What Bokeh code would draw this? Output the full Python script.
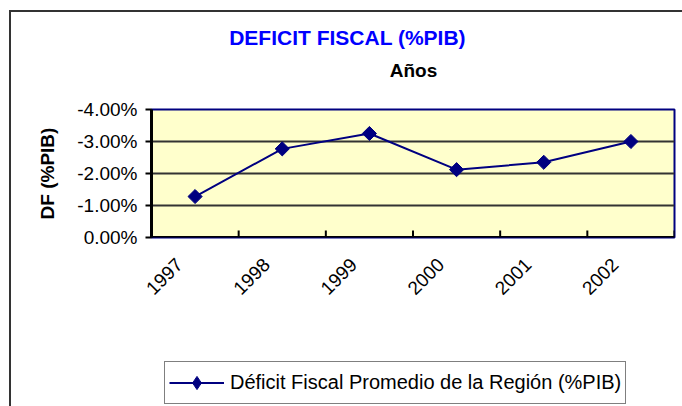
import math
from bokeh.plotting import figure
from bokeh.layouts import column
from bokeh.models import (Range1d, FixedTicker, NumeralTickFormatter,
                          Legend, LegendItem, ColumnDataSource, Label, LinearAxis)
from bokeh.embed import file_html
from bokeh.resources import INLINE

# ---- data ----
years = ["1997", "1998", "1999", "2000", "2001", "2002"]
deficit = [-0.0128, -0.0277, -0.0325, -0.0212, -0.0235, -0.0300]
y_ticks = [0.0, -0.01, -0.02, -0.03, -0.04]
grid_ticks = [-0.01, -0.02, -0.03]
title_text = "DEFICIT FISCAL  (%PIB)"
subtitle_text = "Años"
y_label_text = "DF (%PIB)"
series_name = "Déficit Fiscal Promedio de la Región (%PIB)"

FONT = "Liberation Sans"
NAVY = "#000080"
BORDER = "#333333"

n = len(years)
centers = [i + 0.5 for i in range(n)]        # category centres
bounds = [i + 1.0 for i in range(n)]         # category boundaries (Excel ticks)

src = ColumnDataSource(dict(x=centers, year=years, df=deficit))
tick_src = ColumnDataSource(dict(x=bounds, y=[0.0] * n))

W = 682
TITLE_H = 95
LEG_H = 76
MAIN_H = 406 - TITLE_H - LEG_H


def bare(fig):
    fig.outline_line_color = None
    fig.xgrid.visible = False
    fig.ygrid.visible = False


# ---- title strip ----
t = figure(x_range=Range1d(0, 1), y_range=Range1d(0, 1), width=W, height=TITLE_H,
           output_backend="svg", toolbar_location=None,
           x_axis_location=None, y_axis_location=None,
           min_border_left=0, min_border_right=0, min_border_top=0, min_border_bottom=0,
           background_fill_alpha=0, border_fill_alpha=0)
t.styles = {"background": f"linear-gradient({BORDER},{BORDER}) 9px 10px / 2px 1000px no-repeat, "
                          f"linear-gradient({BORDER},{BORDER}) 9px 10px / 1000px 2px no-repeat, #ffffff"}
bare(t)
t.add_layout(Label(x=199, y=TITLE_H - 37, x_units="screen", y_units="screen",
                   text=title_text, text_align="center", text_baseline="middle",
                   text_font=FONT, text_font_size="21px", text_font_style="bold",
                   text_color="#0000FF"))
t.add_layout(Label(x=262, y=TITLE_H - 70, x_units="screen", y_units="screen",
                   text=subtitle_text, text_align="center", text_baseline="middle",
                   text_font=FONT, text_font_size="19px", text_font_style="bold",
                   text_color="black"))

# ---- main chart ----
p = figure(x_range=Range1d(0, n), y_range=Range1d(0, -0.04),
           width=W, height=MAIN_H, output_backend="svg", toolbar_location=None,
           x_axis_location=None,
           min_border_left=151, min_border_right=8, min_border_top=109 - TITLE_H,
           min_border_bottom=MAIN_H - (237 - TITLE_H),
           background_fill_color="#FFFFCC", border_fill_alpha=0)
p.styles = {"background": f"linear-gradient({BORDER},{BORDER}) 9px 0px / 2px 1000px no-repeat, #ffffff"}

p.outline_line_color = NAVY
p.outline_line_width = 2

p.xgrid.visible = False
p.ygrid.ticker = FixedTicker(ticks=grid_ticks)
p.ygrid.grid_line_color = "#333333"
p.ygrid.grid_line_width = 2

# y axis
p.yaxis.ticker = FixedTicker(ticks=y_ticks)
p.yaxis.formatter = NumeralTickFormatter(format="0.00%")
p.yaxis.axis_line_color = "black"
p.yaxis.axis_line_width = 3
p.yaxis.major_tick_out = 6
p.yaxis.major_tick_in = 0
p.yaxis.major_tick_line_width = 2
p.yaxis.minor_tick_line_color = None
p.yaxis.major_label_standoff = 8
p.yaxis.major_label_text_font = FONT
p.yaxis.major_label_text_font_size = "19px"
p.yaxis.major_label_text_color = "black"
p.yaxis.axis_label = y_label_text
p.yaxis.axis_label_text_font = FONT
p.yaxis.axis_label_text_font_size = "19px"
p.yaxis.axis_label_text_font_style = "bold"
p.yaxis.axis_label_text_color = "black"
p.yaxis.axis_label_standoff = 16

# x axis: category labels (Excel places rotated labels slightly left of centre)
label_shift = 0.18
p.extra_x_ranges = {"labels": Range1d(label_shift, n + label_shift)}
xax = LinearAxis(x_range_name="labels", ticker=FixedTicker(ticks=centers),
                 major_label_overrides={c: yr for c, yr in zip(centers, years)})
xax.axis_line_color = None
xax.major_tick_line_color = None
xax.minor_tick_line_color = None
xax.major_tick_out = 0
xax.major_tick_in = 0
xax.major_label_orientation = math.pi / 4
xax.major_label_standoff = 24
xax.major_label_text_font = FONT
xax.major_label_text_font_size = "19px"
xax.major_label_text_color = "black"
p.add_layout(xax, "below")

# category boundary ticks (pointing into the plot)
p.ray(x="x", y="y", source=tick_src, length=7, length_units="screen",
      angle=math.pi / 2, line_color="black", line_width=2)

r_line = p.line(x="x", y="df", source=src, line_color=NAVY, line_width=2)
r_pts = p.scatter(x="x", y="df", source=src, marker="square", angle=math.pi / 4,
                  size=10, fill_color=NAVY, line_color=NAVY)

# bottom frame edge in black (category axis line)
p.segment(x0=0, y0=0, x1=n, y1=0, line_color="black", line_width=3)

# ---- legend strip below the chart ----
q = figure(x_range=Range1d(n + 10, n + 11), y_range=Range1d(0, -0.04),
           width=W, height=LEG_H, output_backend="svg", toolbar_location=None,
           x_axis_location=None, y_axis_location=None,
           min_border_left=0, min_border_right=0, min_border_top=0, min_border_bottom=0,
           background_fill_alpha=0, border_fill_alpha=0)
q.styles = {"background": f"linear-gradient({BORDER},{BORDER}) 9px 0px / 2px 1000px no-repeat, #ffffff"}
bare(q)
q_line = q.line(x="x", y="df", source=src, line_color=NAVY, line_width=2)
q_pts = q.scatter(x="x", y="df", source=src, marker="diamond",
                  size=10, fill_color=NAVY, line_color=NAVY)

legend = Legend(items=[LegendItem(label=series_name, renderers=[q_line, q_pts])],
                location=(13, 2), orientation="vertical")
legend.border_line_color = "black"
legend.border_line_width = 1
legend.background_fill_color = "white"
legend.background_fill_alpha = 1
legend.label_text_font = FONT
legend.label_text_font_size = "20px"
legend.label_text_color = "black"
legend.glyph_width = 55
legend.glyph_height = 33
legend.label_height = 33
legend.padding = 4
legend.spacing = 0
legend.margin = 0
legend.label_standoff = 6
q.add_layout(legend, "center")

layout = column(t, p, q, spacing=0)
open("out.html", "w").write(file_html(layout, INLINE))
